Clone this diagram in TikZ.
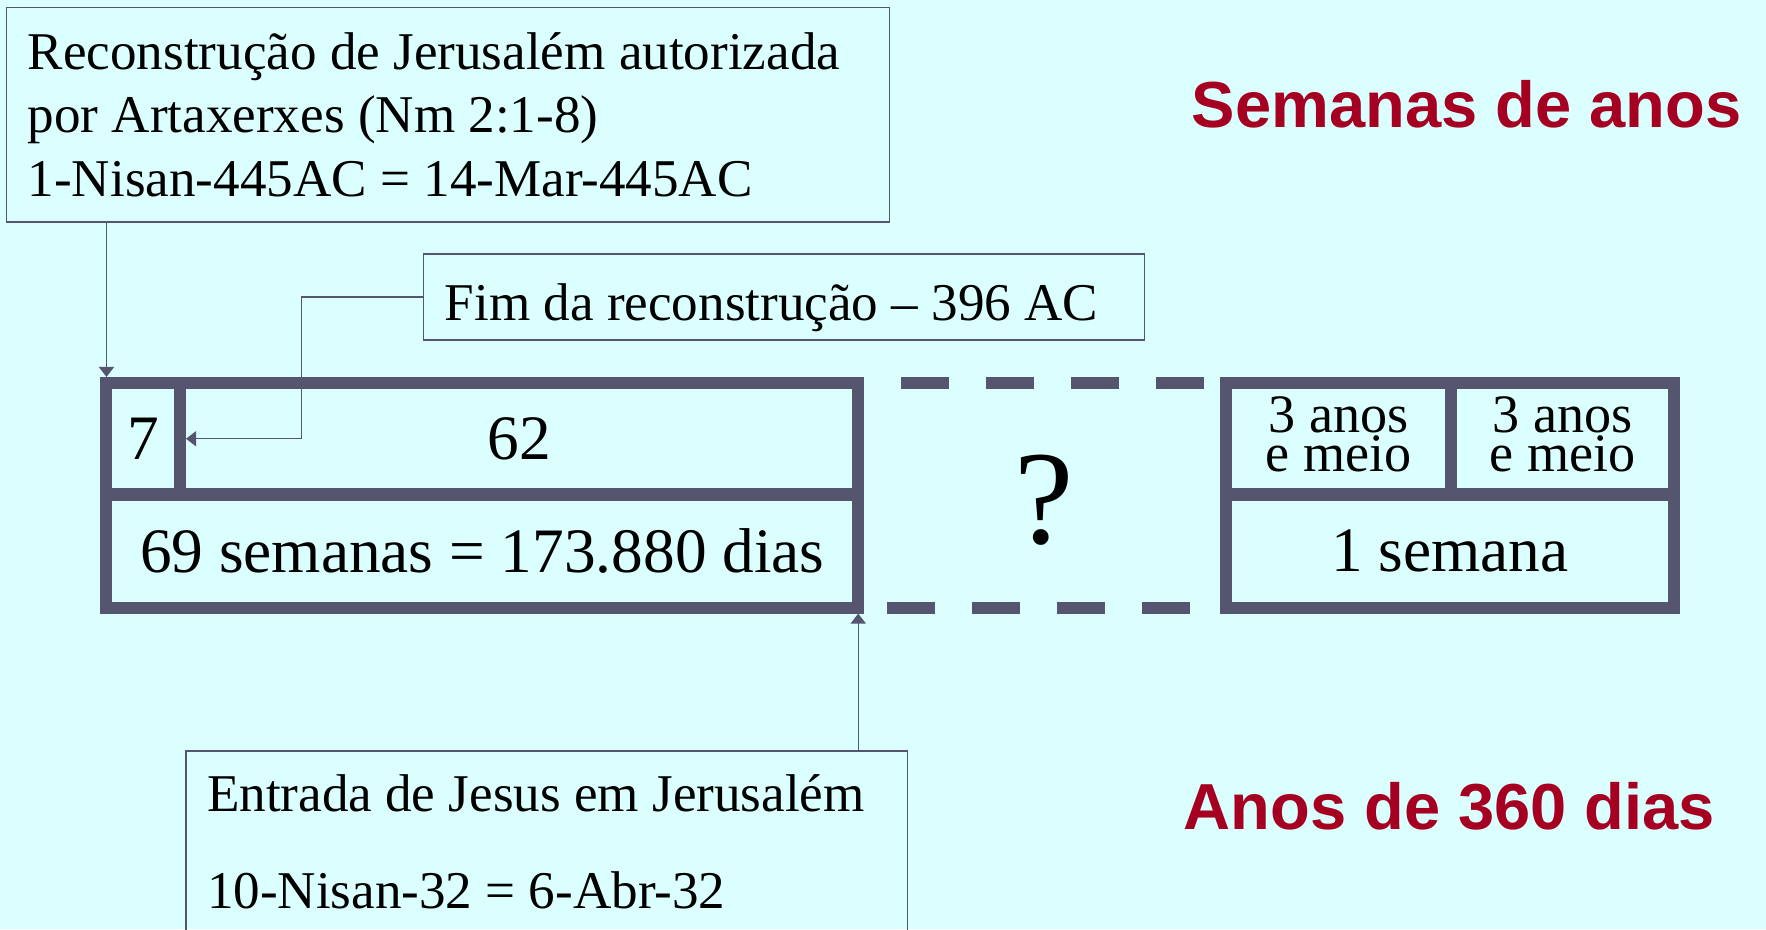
\documentclass[tikz,border=0pt]{standalone}
\usepackage{fontspec}
\setmainfont{Liberation Serif}
\newfontfamily\headfont{Liberation Sans}
\usepackage{tikz}
\usetikzlibrary{arrows.meta,calc}
\definecolor{bgcyan}{HTML}{DBFFFF}
\definecolor{slateline}{HTML}{55556F}
\definecolor{titlered}{HTML}{A50021}
\tikzset{
    cell/.style={draw=slateline,line width=0.12cm,outer sep=0pt,inner sep=0pt,font=\fontsize{18}{21}\selectfont},
    halfcell/.style={cell,align=center,font=\fontsize{15.4}{18.5}\selectfont},
    infobox/.style={draw=slateline,line width=0.4pt,outer sep=0pt,inner xsep=0.21cm,align=flush left,font=\fontsize{15.1}{18.07}\selectfont},
    link/.style={draw=slateline,line width=0.4pt,-{Triangle[length=0.1cm,width=0.15cm]}},
    breakline/.style={draw=slateline,line width=0.12cm,dash pattern=on 0.48cm off 0.37cm},
    titletext/.style={anchor=base west,inner sep=0pt,text=titlered,font=\headfont\bfseries\fontsize{18.5}{22}\selectfont},
}

\begin{document}
\begin{tikzpicture}[x=0.01cm,y=-0.01cm]
    \useasboundingbox (0,0) rectangle (1766,929);
    \clip (0,0) rectangle (1766,929);
    \fill[bgcyan] (0,0) rectangle (1766,929);

    \node[infobox,minimum width=8.82cm,minimum height=2.145cm,text width=8.40cm,inner ysep=0pt] (auth) at (448,114.75)
        {Reconstrução de Jerusalém autorizada\\por Artaxerxes (Nm 2:1-8)\\1-Nisan-445AC = 14-Mar-445AC};
    \node[infobox,text width=6.78cm,inner ysep=0pt,text height=0.66cm,text depth=0.2cm] (fim) at (784,297)
        {Fim da reconstrução – 396 AC};
    \node[infobox,text width=6.79cm,inner ysep=0.24cm,anchor=north west] (entry) at (186,751)
        {Entrada de Jesus em Jerusalém\\[0.325cm]10-Nisan-32 = 6-Abr-32};

    \node[cell,minimum width=0.735cm,minimum height=1.115cm] (c7) at (143.25,438.75) {7};
    \node[cell,minimum width=6.78cm,minimum height=1.115cm] (c62) at (519,438.75) {62};
    \node[cell,minimum width=7.515cm,minimum height=1.13cm] (c69) at (482.25,551) {69 semanas = 173.880 dias};
    \foreach \nm/\cx/\w in {cA/1338.5/2.25,cB/1562.5/2.23}
        \node[halfcell,minimum width=\w cm,minimum height=1.115cm] (\nm) at (\cx,438.75) {3 anos\\[-7.5pt]e meio\rule[-2.6pt]{0pt}{0pt}};
    \node[cell,minimum width=4.48cm,minimum height=1.13cm] (csem) at (1450,551) {1 semana};

    \draw[breakline,dash phase=0.48cm] ([xshift=0.06cm]c62.north east) -- ([xshift=-0.06cm]cA.north west);
    \draw[breakline,dash phase=0.625cm] ([xshift=0.06cm]c69.south east) -- ([xshift=-0.06cm]csem.south west);
    \node[inner sep=0pt,font=\fontsize{38}{42}\selectfont] (unknown) at (1044,500) {?};

    \draw[link] (auth.south -| c7.north west) -- ([yshift=0.06cm]c7.north west);
    \draw[link] (fim.west) -- ++(-122,0) |- ([xshift=0.06cm]c7.east);
    \draw[link] (entry.north -| c69.south east) -- ([yshift=-0.06cm]c69.south east);

    \node[titletext] (weeks) at (1191,127.5) {Semanas de anos};
    \node[titletext] (years) at (1183,829) {Anos de 360 dias};
\end{tikzpicture}
\end{document}
